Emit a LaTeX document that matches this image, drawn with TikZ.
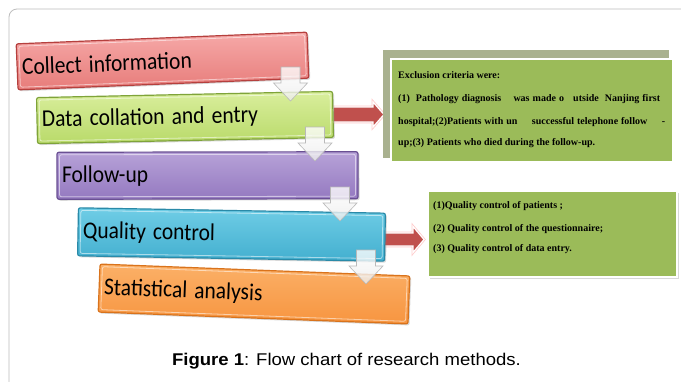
\documentclass[tikz,border=0pt]{standalone}
\usepackage{fontspec}
\usepackage{graphicx}
\setmainfont{Liberation Serif}
\newfontfamily\calib{Carlito}
\newfontfamily\arialf{Liberation Sans}
\usetikzlibrary{shadows}
\definecolor{framegray}{HTML}{BDBDBD}
\definecolor{redtop}{HTML}{F6A9A8}
\definecolor{redbot}{HTML}{E77C7A}
\definecolor{redline}{HTML}{B5403E}
\definecolor{grntop}{HTML}{D9EE9C}
\definecolor{grnbot}{HTML}{B9DA6A}
\definecolor{grnline}{HTML}{7FA33A}
\definecolor{purtop}{HTML}{B7A2D8}
\definecolor{purbot}{HTML}{9479C0}
\definecolor{purline}{HTML}{6A5093}
\definecolor{cyntop}{HTML}{6FCDE6}
\definecolor{cynbot}{HTML}{43AFCF}
\definecolor{cynline}{HTML}{2A8AA8}
\definecolor{orgtop}{HTML}{FBB067}
\definecolor{orgbot}{HTML}{F79540}
\definecolor{orgline}{HTML}{D9731C}
\definecolor{arrred}{HTML}{C0504D}
\definecolor{olivegray}{HTML}{A9B18F}
\definecolor{boxgreen}{HTML}{9BBB59}
\newcommand\tallt[1]{\scalebox{1}[1.12]{#1}}
\tikzset{
  flowbox/.style={draw, line width=1.2pt, rounded corners=2pt, inner xsep=5pt, inner ysep=0pt,
    align=left, font=\calib\fontsize{21.5}{26}\selectfont, text=black,
    drop shadow={opacity=0.3, shadow xshift=1.5pt, shadow yshift=-1.5pt}},
  bevelline/.style={draw=white, draw opacity=0.55, line width=0.8pt, rounded corners=2pt, inner sep=0pt},
  downarr/.style={draw=gray!55, line width=0.6pt, top color=white, bottom color=gray!15, fill opacity=0.8, line join=miter},
  redarr/.style={fill=arrred, draw=white, line width=1.2pt, line join=miter,
    preaction={draw=red!20, line width=2.8pt}},
  infotext/.style={anchor=base west, inner sep=0pt, font=\bfseries\fontsize{10}{12}\selectfont},
}
\begin{document}
\begin{tikzpicture}[x=1pt,y=-1pt]
\useasboundingbox (0,0) rectangle (681,381);
\clip (0,0) rectangle (681,381);
\fill[white] (0,0) rectangle (681,381);
\draw[framegray, line width=0.8pt, rounded corners=8pt] (9,9) rectangle (700,400);

% red arrows (drawn beneath the boxes)
\coordinate (r1s) at (333,114.5);
\draw[redarr] (r1s) ++(0,-7.5) -- ++(40,0) -- ++(0,-5) -- ++(11,12.5) -- ++(-11,12.5) -- ++(0,-5) -- ++(-40,0) -- cycle;
\coordinate (r2s) at (382,239.5);
\draw[redarr] (r2s) ++(0,-6.5) -- ++(31,0) -- ++(0,-6.5) -- ++(11,13) -- ++(-11,13) -- ++(0,-6.5) -- ++(-31,0) -- cycle;

% flow boxes
\node[flowbox, top color=redtop, bottom color=redbot, draw=redline, rotate=2.3,
      text width=281pt, minimum height=46pt] (b1) at (162.5,61) {\tallt{Collect information}};
\node[bevelline, rotate=2.3, minimum width=286pt, minimum height=41pt] (b1i) at (162.5,61) {};

\node[flowbox, top color=grntop, bottom color=grnbot, draw=grnline, rotate=1.2,
      text width=286pt, minimum height=46pt] (b2) at (185,117.5) {\tallt{Data collation and entry}};
\node[bevelline, rotate=1.2, minimum width=291pt, minimum height=41pt] (b2i) at (185,117.5) {};

\node[flowbox, top color=purtop, bottom color=purbot, draw=purline, rotate=0.1,
      text width=291pt, minimum height=47pt] (b3) at (207.5,175.5) {\tallt{Follow-up}};
\node[bevelline, rotate=0.1, minimum width=296pt, minimum height=42pt] (b3i) at (207.5,175.5) {};

\node[flowbox, top color=cyntop, bottom color=cynbot, draw=cynline, rotate=-1,
      text width=297pt, minimum height=48pt] (b4) at (231.5,234.5) {\tallt{Quality control}};
\node[bevelline, rotate=-1, minimum width=302pt, minimum height=43pt] (b4i) at (231.5,234.5) {};

\node[flowbox, top color=orgtop, bottom color=orgbot, draw=orgline, rotate=-2.2,
      text width=300pt, minimum height=48pt] (b5) at (254,294) {\tallt{Statistical analysis}};
\node[bevelline, rotate=-2.2, minimum width=305pt, minimum height=43pt] (b5i) at (254,294) {};

% down arrows between boxes
\coordinate (d1) at (290.5,67);
\coordinate (d2) at (315,127);
\coordinate (d3) at (340,187);
\coordinate (d4) at (366,250);
\foreach \c in {d1,d2,d3,d4}{
  \draw[downarr] (\c) ++(-9.5,0) -- ++(19,0) -- ++(0,16) -- ++(7.5,0) -- ++(-17,18) -- ++(-17,-18) -- ++(7.5,0) -- cycle;
}

% exclusion criteria box
\node[fill=olivegray, inner sep=0pt, minimum width=286pt, minimum height=108pt, anchor=north west] (exs) at (383,50) {};
\node[fill=boxgreen, draw=white, line width=2pt, inner sep=0pt, minimum width=282pt, minimum height=103pt,
      anchor=north west, drop shadow={opacity=0.25, shadow xshift=1.2pt, shadow yshift=-1.2pt}] (ex) at (390,58) {};
\node[infotext] (ex1) at (398,78.5) {Exclusion criteria were:};
\node[infotext] (ex2) at (398,101.5) {\makebox[262pt][s]{(1)\ \ Pathology diagnosis\ \ \ \ was made o\ \ \ utside\ \ Nanjing first}};
\node[infotext] (ex3) at (398,124) {\makebox[267pt][s]{hospital;(2)Patients with un\ \ \ \ \ successful telephone follow\ \ \ \ \ -}};
\node[infotext] (ex4) at (398,145.5) {up;(3) Patients who died during the follow-up.};

% quality control box
\node[fill=boxgreen, draw=white, line width=2pt, inner sep=0pt, minimum width=249pt, minimum height=86pt,
      anchor=north west, drop shadow={opacity=0.3, shadow xshift=1.5pt, shadow yshift=-1.5pt}] (qc) at (427,190) {};
\node[infotext] (qc1) at (433,208) {(1)Quality control of patients ;};
\node[infotext] (qc2) at (433,231) {(2) Quality control of the questionnaire;};
\node[infotext] (qc3) at (433,251) {(3) Quality control of data entry.};

% caption
\node[anchor=base, inner sep=0pt, font=\arialf\fontsize{17}{21}\selectfont] (cap) at (346.5,365)
  {\scalebox{1.09}[1]{\textbf{Figure 1}: Flow chart of research methods.}};
\end{tikzpicture}
\end{document}
